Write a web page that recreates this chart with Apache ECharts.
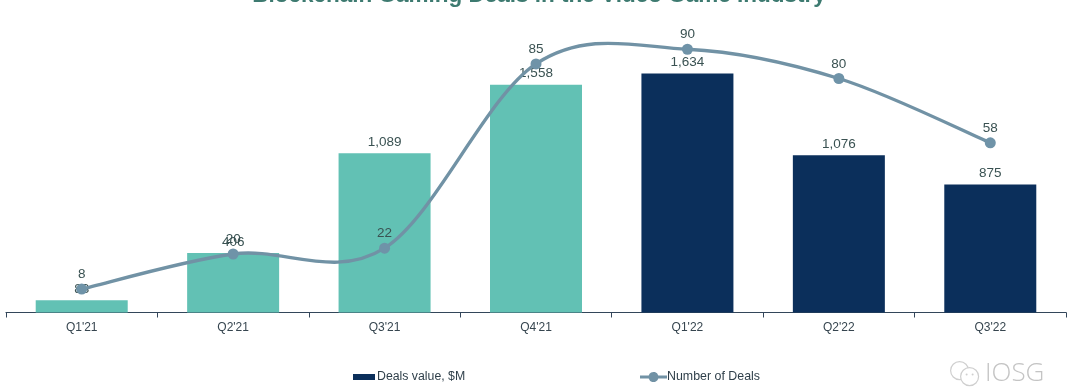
<!DOCTYPE html>
<html><head><meta charset="utf-8">
<style>html,body{margin:0;padding:0;background:#fff}#c{width:1080px;height:389px}</style>
<script src="https://cdn.jsdelivr.net/npm/echarts@6/dist/echarts.min.js"></script>
</head><body><div id="c"></div>
<script>
const categories = ["Q1'21","Q2'21","Q3'21","Q4'21","Q1'22","Q2'22","Q3'22"];
const dealsValue = [83,406,1089,1558,1634,1076,875];
const dealsCount = [8,20,22,85,90,80,58];
const barTeal = '#62c1b4', barNavy = '#0b2f5b', lineColor = '#7192a5', markerColor = '#6f93a8';
const labelColor = '#3a5252';
const fontFamily = '"Liberation Sans", Arial, sans-serif';

const chart = echarts.init(document.getElementById('c'), null, {renderer:'canvas'});
function curveItem(params, api){
  const i = params.dataIndex;
  const n = dealsCount.length;
  if (i >= n-1) return null;
  const pt = k => api.coord([categories[Math.max(0,Math.min(n-1,k))], dealsCount[Math.max(0,Math.min(n-1,k))]]);
  const p0=pt(i-1), p1=pt(i), p2=pt(i+1), p3=pt(i+2);
  const c1=[p1[0]+(p2[0]-p0[0])/6, p1[1]+(p2[1]-p0[1])/6];
  const c2=[p2[0]-(p3[0]-p1[0])/6, p2[1]-(p3[1]-p1[1])/6];
  return {type:'bezierCurve', shape:{x1:p1[0],y1:p1[1],x2:p2[0],y2:p2[1],cpx1:c1[0],cpy1:c1[1],cpx2:c2[0],cpy2:c2[1]},
    style:{stroke:lineColor,fill:null,lineWidth:3.4}};
}
chart.setOption({
  animation:false,
  backgroundColor:'#fff',
  title:{text:'Blockchain Gaming Deals in the Video Game Industry',left:534,textAlign:'center',top:-21,
    textStyle:{color:'#3d7a70',fontFamily,fontWeight:'bold',fontSize:22.5}},
  grid:{left:6,right:14,top:20,bottom:76.5,containLabel:false},
  legend:[
    {left:353,top:371,itemGap:0,itemWidth:22,itemHeight:6,padding:0,
     data:[{name:'Deals value, $M',icon:'rect',itemStyle:{color:barNavy}}],
     textStyle:{color:'#2f3f4a',fontFamily,fontSize:12.3,padding:[0,0,0,-3]}},
    {left:640,top:371,itemGap:0,itemWidth:27,itemHeight:11,padding:0,
     data:[{name:'Number of Deals',icon:'path://M0 40 H87 A50 50 0 0 1 183 40 H270 V70 H183 A50 50 0 0 1 87 70 H0 Z',itemStyle:{color:lineColor}}],
     textStyle:{color:'#2f3f4a',fontFamily,fontSize:12.4,padding:[0,0,0,-5]}}
  ],
  xAxis:{type:'category',data:categories,boundaryGap:true,
    axisLine:{lineStyle:{color:'#33465a',width:1.2}},
    axisTick:{show:true,alignWithLabel:false,length:5,lineStyle:{color:'#33465a'}},
    axisLabel:{color:'#36454f',fontFamily,fontSize:12,margin:9}},
  yAxis:[
    {type:'value',min:0,max:2000,show:false,splitLine:{show:false}},
    {type:'value',min:0,max:100,show:false,splitLine:{show:false}}
  ],
  series:[
    {name:'Deals value, $M',type:'bar',yAxisIndex:0,barWidth:92,
     data:dealsValue.map((v,i)=>({value:v,itemStyle:{color:i<4?barTeal:barNavy}})),
     label:{show:true,position:'top',distance:4,color:labelColor,fontFamily,fontSize:13.5,
       formatter:p=>p.value.toLocaleString('en-US')},z:2},
    {name:'Number of Deals curve',type:'custom',yAxisIndex:1,coordinateSystem:'cartesian2d',
     renderItem:curveItem,data:dealsCount.map((v,i)=>[i,v]),encode:{x:0,y:1},silent:true,z:3},
    {name:'Number of Deals',type:'line',yAxisIndex:1,data:dealsCount,
     lineStyle:{opacity:0,width:0},symbol:'circle',symbolSize:11,
     itemStyle:{color:markerColor},
     label:{show:true,position:'top',distance:2,color:labelColor,fontFamily,fontSize:13.5},z:4}
  ],
  graphic:[
    {type:'group',left:950,top:361,silent:true,children:[
      {type:'circle',shape:{cx:10,cy:9,r:9},style:{fill:'#fff',stroke:'#cfcfcf',lineWidth:1.2}},
      {type:'circle',shape:{cx:20,cy:15,r:9},style:{fill:'#fff',stroke:'#cfcfcf',lineWidth:1.2}},
      {type:'circle',shape:{cx:17,cy:13,r:1},style:{fill:'#cfcfcf'}},
      {type:'circle',shape:{cx:23,cy:13,r:1},style:{fill:'#cfcfcf'}}
    ]},
    {type:'text',left:985,top:361,silent:true,style:{text:'IOSG',fill:'#c4c4c4',font:'300 26px "Open Sans", sans-serif',letterSpacing:2}}
  ]
});
</script></body></html>
